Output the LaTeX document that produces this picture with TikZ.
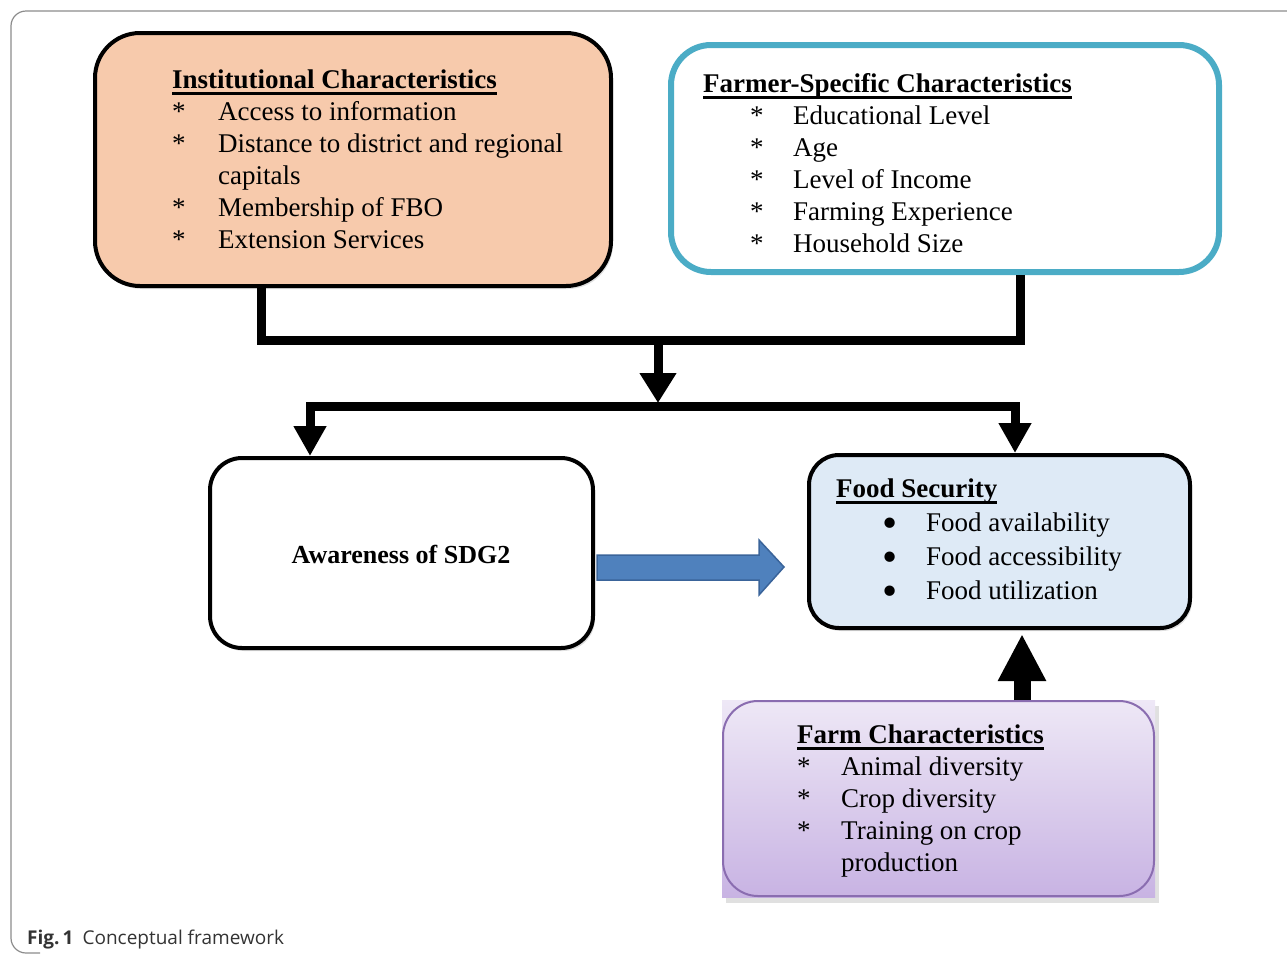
\documentclass[tikz,border=0pt]{standalone}
\usepackage{fontspec}
\setmainfont{Liberation Serif}
\newfontfamily\capfont{Open Sans}
\usepackage{array}
\usepackage{graphicx}
\usetikzlibrary{arrows.meta,calc,backgrounds,shadows}
\newcommand\myul[1]{\setbox0\hbox{#1}\rlap{\rule[-6.5pt]{\wd0}{2.2pt}}\box0}
\newcommand\bigbul{\smash{\raisebox{-6pt}{\scalebox{1.6}{\textbullet}}}}
\definecolor{orangefill}{HTML}{F7CAAC}
\definecolor{bluebord}{HTML}{4BACC6}
\definecolor{foodfill}{HTML}{DEEAF6}
\definecolor{arrowblue}{HTML}{4F81BD}
\definecolor{arrowbord}{HTML}{3A649A}
\definecolor{purpbord}{HTML}{8A6DB0}
\definecolor{purptop}{HTML}{EEE8F6}
\definecolor{purpbot}{HTML}{C8B3E3}
\definecolor{framegray}{HTML}{8C8C8C}
\definecolor{capgray}{HTML}{333333}
\tikzset{
  box/.style={rectangle, inner sep=0pt, draw=black, line width=4pt},
  txt/.style={inner sep=0pt, anchor=base west, align=left, font=\fontsize{27}{32}\selectfont},
  conn/.style={line width=9pt, line join=miter, draw=black},
  shd/.style={drop shadow={opacity=0.25, shadow xshift=2pt, shadow yshift=-3pt}},
}
\begin{document}
\begin{tikzpicture}[x=1pt,y=-1pt]
\useasboundingbox (0,0) rectangle (1287,954);
\clip (0,0) rectangle (1287,954);
% frame
\draw[framegray, line width=1.2pt, rounded corners=15pt] (1300,11) -- (11,11) -- (11,953) -- (40,953);

% boxes
\node[box, shd, fill=orangefill, rounded corners=45pt, minimum width=516pt, minimum height=253pt] (inst) at (353,159.5) {};
\node[box, draw=bluebord, line width=6pt, fill=white, rounded corners=40pt, minimum width=548pt, minimum height=227pt] (farmer) at (945,158.5) {};
\node[box, shd, fill=white, rounded corners=32pt, minimum width=383pt, minimum height=190pt] (aw) at (401.5,553) {};
\node[box, shd, fill=foodfill, rounded corners=30pt, minimum width=381pt, minimum height=173pt] (food) at (999.5,541.5) {};
\node[box, draw=purpbord, line width=2pt, rounded corners=35pt, minimum width=431pt, minimum height=195pt] (farm) at (938.5,798.5) {};
\begin{scope}[on background layer]
  \fill[black, opacity=0.12] ($(farm.north west)+(4,6)$) rectangle ($(farm.south east)+(4,6)$);
  \shade[top color=purptop, bottom color=purpbot] (farm.north west) rectangle (farm.south east);
\end{scope}

% texts
\node[txt] (t1) at (172,88) {\begin{tabular}[t]{@{}p{46pt}@{}l@{}}
\multicolumn{2}{@{}l@{}}{\textbf{\myul{Institutional Characteristics}}}\\
{*} & Access to information\\
{*} & Distance to district and regional\\
  & capitals\\
{*} & Membership of FBO\\
{*} & Extension Services
\end{tabular}};
\node[txt] (t2) at (703,92) {\begin{tabular}[t]{@{}p{47pt}@{}p{43pt}@{}l@{}}
\multicolumn{3}{@{}l@{}}{\textbf{\myul{Farmer-Specific Characteristics}}}\\
 & * & Educational Level\\
 & * & Age\\
 & * & Level of Income\\
 & * & Farming Experience\\
 & * & Household Size
\end{tabular}};
\node[txt, font=\fontsize{27}{34}\selectfont] (t4) at (836,497) {\begin{tabular}[t]{@{}p{46pt}@{}p{44pt}@{}l@{}}
\multicolumn{3}{@{}l@{}}{\textbf{\myul{Food Security}}}\\
 & \bigbul & Food availability\\
 & \bigbul & Food accessibility\\
 & \bigbul & Food utilization
\end{tabular}};
\node[txt] (t5) at (797,743) {\begin{tabular}[t]{@{}p{44pt}@{}l@{}}
\multicolumn{2}{@{}l@{}}{\textbf{\myul{Farm Characteristics}}}\\
{*} & Animal diversity\\
{*} & Crop diversity\\
{*} & Training on crop\\
  & production
\end{tabular}};
\node[inner sep=0pt, anchor=base, font=\fontsize{26}{30}\selectfont\bfseries] (t3) at (401,563) {Awareness of SDG2};

% connectors
\coordinate (j1) at (658,340);
\coordinate (j2) at (658,406);
\draw[conn] ([xshift=-92pt]inst.south) |- (j1);
\draw[conn] ([xshift=75pt]farmer.south) |- (j1);
\draw[conn, -{Triangle[width=35pt,length=30pt]}] (j1) -- ($(j2)+(0,-3)$);
\draw[conn, -{Triangle[width=31pt,length=30pt]}] (j2) -| ([xshift=-91.5pt]aw.north);
\draw[conn, -{Triangle[width=31pt,length=30pt]}] (j2) -| ([xshift=15.5pt]food.north);
\draw[line width=17pt, -{Triangle[width=45pt,length=47pt]}] ($(farm.north)+(83.5,0)$) -- ($(food.south)+(22.5,4)$);

% blue block arrow
\filldraw[fill=arrowblue, draw=arrowbord, line width=1.5pt, line join=miter]
  ($(aw.east)+(2,2)$) -- ($(aw.east)+(164,2)$) -- ($(aw.east)+(164,-13)$)
  -- ($(food.west)+(-23,25.5)$) -- ($(aw.east)+(164,42)$) -- ($(aw.east)+(164,27)$)
  -- ($(aw.east)+(2,27)$) -- cycle;

% caption
\node[inner sep=0pt, anchor=base west, font=\capfont\fontsize{19}{21}\selectfont, text=capgray] (cap) at (27,944) {\textbf{Fig.\,1}\hspace{9pt}Conceptual framework};
\end{tikzpicture}
\end{document}
